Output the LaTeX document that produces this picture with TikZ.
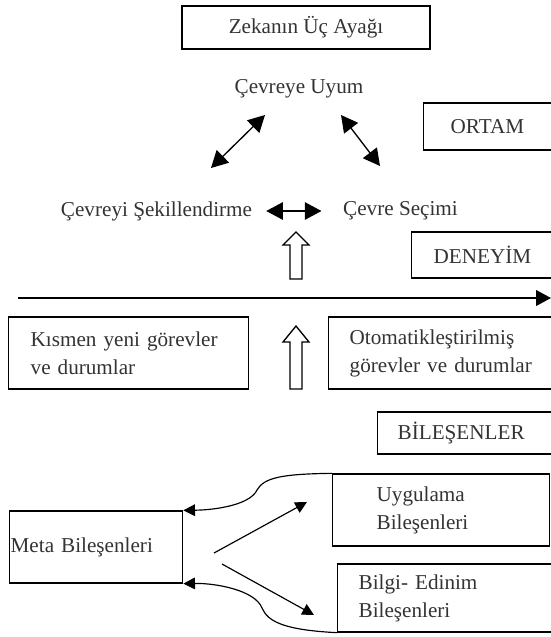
\documentclass[tikz,border=0pt]{standalone}
\usepackage{fontspec}
\setmainfont{Liberation Serif}
\usetikzlibrary{arrows.meta}

\tikzstyle{Box} = [draw,
                   rectangle,
                   line width=0.8pt,
                   inner ysep=0pt,
                   align=left,
                   anchor=west]
\tikzstyle{Dbl} = [{Triangle[length=10pt,width=10.5pt]}-{Triangle[length=10pt,width=10.5pt]},
                   line width=0.8pt]
\tikzstyle{Thin} = [-{Triangle[length=7pt,width=7pt]},
                    line width=0.7pt]
\tikzstyle{Hollow} = [draw, line width=0.8pt, fill=white]

\begin{document}
\begin{tikzpicture}[x=0.6pt, y=-0.6pt, font=\fontsize{12.7}{16.8}\selectfont, text=black!80]

    \useasboundingbox (0,0) rectangle (551,637);
    \clip (0,0) rectangle (551,637);

    % Title
    \node (title) at (306, 27.5) [Box, anchor=center, align=center, minimum width=148.8pt, minimum height=25.8pt]{Zekanın Üç Ayağı};

    % Environment
    \node (uyum) at (299, 89) {Çevreye Uyum};
    \node (sekil) at (156.5, 211) {Çevreyi Şekillendirme};
    \node (secim) at (400.5, 211) {Çevre Seçimi};
    \node (ortam) at (423, 126.5) [Box, inner xsep=16.2pt, text width=49.8pt, minimum height=28.2pt]{ORTAM};

    % Experience
    \node (deneyim) at (411, 255) [Box, inner xsep=13.2pt, text width=63pt, minimum height=27.6pt]{DENEYİM};
    \node (kismen) at (8, 353) [Box, inner xsep=13.2pt, text width=117.6pt, minimum height=43.2pt]{Kısmen yeni görevler\\ve durumlar};
    \node (otomatik) at (328, 353) [Box, inner xsep=12.6pt, text width=114pt, minimum height=43.2pt]{Otomatikleştirilmiş\\görevler ve durumlar};

    % Components
    \node (bilesen) at (377, 433) [Box, inner xsep=12pt, text width=85.8pt, minimum height=25.2pt]{BİLEŞENLER};
    \node (meta) at (9, 547) [Box, inner xsep=0.6pt, text width=102.6pt, minimum height=43.2pt]{Meta Bileşenleri};
    \node (uyg) at (332, 510) [Box, inner xsep=26.4pt, text width=77.4pt, minimum height=43.2pt]{Uygulama\\Bileşenleri};
    \node (bilgi) at (337, 598) [Box, inner xsep=12.6pt, text width=108.6pt, minimum height=40.8pt]{Bilgi- Edinim\\Bileşenleri};

    % Arrow ends
    \coordinate (uyumL) at (265, 115);
    \coordinate (sekilT) at (211, 168);
    \coordinate (uyumR) at (341, 115);
    \coordinate (secimT) at (380, 166);
    \coordinate (axisL) at (18, 298);
    \coordinate (axisR) at (551, 298);
    \coordinate (metaA) at (214, 553);
    \coordinate (uygA) at (307, 502);
    \coordinate (metaB) at (222, 564);
    \coordinate (bilgiA) at (314, 615);

    % Lines
    \draw [Dbl] (uyumL) -- (sekilT);
    \draw [Dbl] (uyumR) -- (secimT);
    \draw [Dbl, shorten <=5pt, shorten >=9.5pt] (sekil.east) -- (secim.west);

    \draw [-{Triangle[length=9pt,width=9.5pt]}, line width=0.9pt] (axisL) -- (axisR);

    \draw [Hollow] (290,279) -- (290,245) -- (283,245) -- (296,232) -- (309,245) -- (302,245) -- (302,279) -- cycle;
    \draw [Hollow] (290,389) -- (290,342) -- (283,342) -- (296,326) -- (309,342) -- (302,342) -- (302,389) -- cycle;

    \draw [Thin] (metaA) -- (uygA);
    \draw [Thin] (metaB) -- (bilgiA);

    \draw [Thin] (uyg.north west) .. controls (280,474) and (264,478) .. (257,490) .. controls (250,505) and (215,510) .. (meta.north east);
    \draw [Thin] (bilgi.south west) .. controls (285,630) and (268,622) .. (262,608) .. controls (255,590) and (215,583) .. (meta.south east);

\end{tikzpicture}
\end{document}
